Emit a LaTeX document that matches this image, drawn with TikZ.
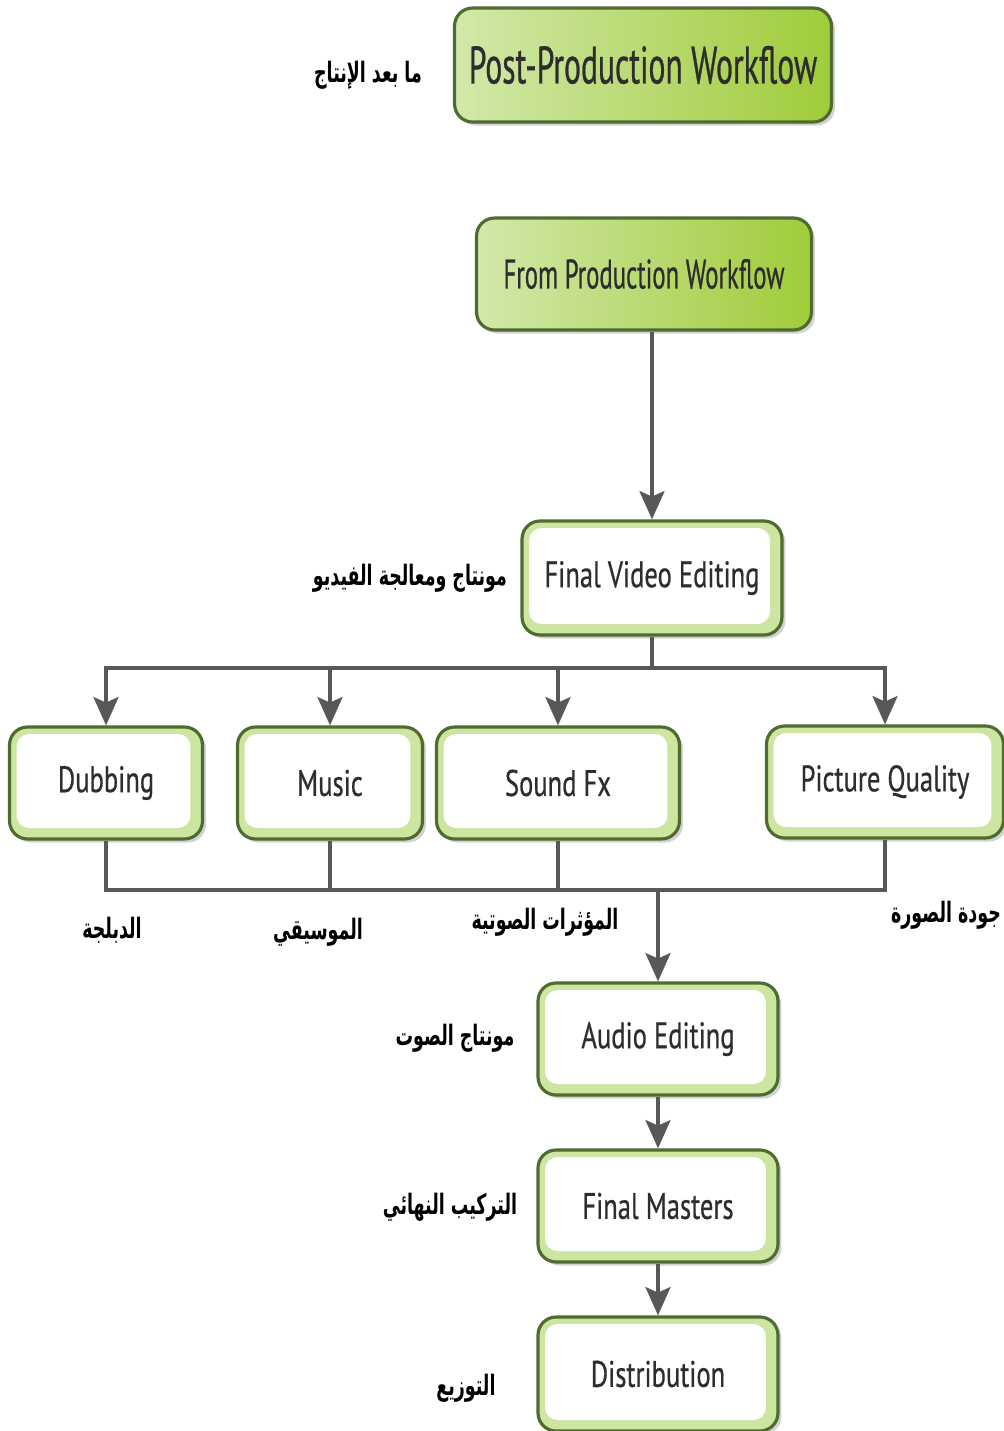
\documentclass[tikz,border=0pt]{standalone}
\usepackage{fontspec}
\usepackage{tikz}
\usetikzlibrary{arrows.meta,shadows}
\setmainfont[FakeStretch=0.72,FakeBold=0.5]{PT Sans}
\newfontfamily\titlefont[FakeStretch=0.6,FakeBold=0.5]{PT Sans}
\newfontfamily\arabicfont[Script=Arabic,FakeStretch=0.62]{DejaVu Sans}
\TeXXeTstate=1

\definecolor{boxline}{RGB}{79,107,48}
\definecolor{boxlight}{RGB}{204,229,160}
\definecolor{greenleft}{RGB}{210,232,170}
\definecolor{greenright}{RGB}{160,204,58}
\definecolor{arrowgray}{RGB}{88,88,88}
\definecolor{textgray}{RGB}{45,45,45}

\tikzset{
  basebox/.style={draw=boxline, line width=1.8pt, rounded corners=0.36cm,
    minimum height=2.24cm, text=textgray, font=\fontsize{21}{23}\selectfont,
    drop shadow={shadow xshift=2pt, shadow yshift=-2pt, opacity=0.35}},
  greenbox/.style={basebox, left color=greenleft, right color=greenright},
  whitebox/.style={basebox, fill=boxlight,
    path picture={\fill[white, rounded corners=0.25cm]
      ([shift={(0.14cm,-0.14cm)}]path picture bounding box.north west) rectangle
      ([shift={(-0.24cm,0.22cm)}]path picture bounding box.south east);}},
  conn/.style={draw=arrowgray, line width=2.8pt},
  arr/.style={conn, -{Stealth[length=16pt, width=14pt, inset=3pt]}},
  arlabel/.style={font=\arabicfont\bfseries\fontsize{16}{18}\selectfont, text=black}
}

\begin{document}
\begin{tikzpicture}[x=0.02cm, y=-0.02cm]
  \useasboundingbox[fill=white] (0,0) rectangle (1004,1431);

  % title boxes
  \node[greenbox, minimum width=7.54cm, minimum height=2.28cm,
    font=\titlefont\fontsize{30}{32}\selectfont] (post) at (643,65) {Post-Production Workflow};
  \node[greenbox, minimum width=6.7cm,
    font=\titlefont\fontsize{23.5}{26}\selectfont] (from) at (644,274) {From Production Workflow};

  % main steps
  \node[whitebox, minimum width=5.2cm, minimum height=2.28cm] (fve) at (652,578) {Final Video Editing};
  \node[whitebox, minimum width=3.86cm] (dub) at (106,783) {Dubbing};
  \node[whitebox, minimum width=3.7cm] (mus) at (330,783) {Music};
  \node[whitebox, minimum width=4.86cm] (sfx) at (558,783) {Sound Fx};
  \node[whitebox, minimum width=4.74cm] (pic) at (885,782) {Picture Quality};
  \node[whitebox, minimum width=4.8cm] (aud) at (658,1039) {Audio Editing};
  \node[whitebox, minimum width=4.8cm] (fin) at (658,1206) {Final Masters};
  \node[whitebox, minimum width=4.8cm, minimum height=2.28cm] (dist) at (658,1374) {Distribution};

  % arabic labels
  \node[arlabel] (lpost) at (368,75) {\beginR ما بعد الإنتاج\endR};
  \node[arlabel] (lfve) at (410,578) {\beginR مونتاج ومعالجة الفيديو\endR};
  \node[arlabel] (ldub) at (112,930) {\beginR الدبلجة\endR};
  \node[arlabel] (lmus) at (318,932) {\beginR الموسيقي\endR};
  \node[arlabel] (lsfx) at (545,922) {\beginR المؤثرات الصوتية\endR};
  \node[arlabel] (lpic) at (946,915) {\beginR جودة الصورة\endR};
  \node[arlabel] (laud) at (455,1038) {\beginR مونتاج الصوت\endR};
  \node[arlabel] (lfin) at (450,1207) {\beginR التركيب النهائي\endR};
  \node[arlabel] (ldist) at (466,1388) {\beginR التوزيع\endR};

  % connectors
  \coordinate (busA) at (0,668);
  \coordinate (busB) at (0,890);
  \draw[arr] (from.south -| fve.north) -- (fve.north);
  \draw[conn] (fve.south) -- (fve.south |- busA);
  \draw[conn, line cap=rect] (dub.north |- busA) -- (pic.north |- busA);
  \foreach \n in {dub,mus,sfx,pic}
    \draw[arr] (\n.north |- busA) -- (\n.north);
  \foreach \n in {dub,mus,sfx,pic}
    \draw[conn] (\n.south) -- (\n.south |- busB);
  \draw[conn, line cap=rect] (dub.south |- busB) -- (pic.south |- busB);
  \draw[arr] (aud.north |- busB) -- (aud.north);
  \draw[arr] (aud) -- (fin);
  \draw[arr] (fin) -- (dist);
\end{tikzpicture}
\end{document}
